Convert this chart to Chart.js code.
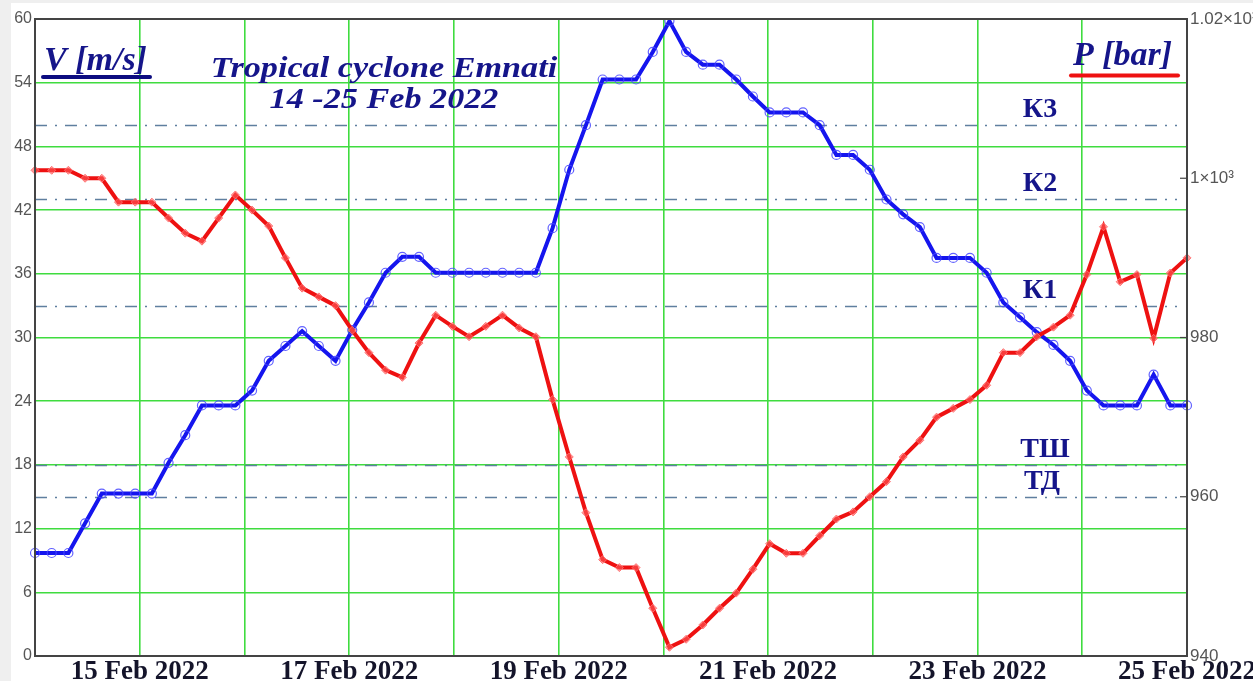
<!DOCTYPE html>
<html>
<head>
<meta charset="utf-8">
<script src="https://cdn.jsdelivr.net/npm/chart.js@4.4.1/dist/chart.umd.min.js"></script>
<style>
html,body{margin:0;padding:0;background:#fff;overflow:hidden;}
canvas{display:block;}
</style>
</head>
<body>
<canvas id="c" width="1253" height="681"></canvas>
<script>
// Wind speed V [m/s], one value per observation
const windSpeed = [9.7,9.7,9.7,12.5,15.3,15.3,15.3,15.3,18.2,20.8,
  23.6,23.6,23.6,25.0,27.8,29.2,30.6,29.2,27.8,30.7,
  33.3,36.1,37.6,37.6,36.1,36.1,36.1,36.1,36.1,36.1,
  36.1,40.3,45.8,50.0,54.3,54.3,54.3,56.9,59.8,56.9,
  55.7,55.7,54.3,52.7,51.2,51.2,51.2,50.0,47.2,47.2,
  45.8,43.0,41.6,40.4,37.5,37.5,37.5,36.1,33.3,31.9,
  30.5,29.3,27.8,25.0,23.6,23.6,23.6,26.5,23.6,23.6];
// Pressure P (plotted on the right axis)
const pressure = [1001.0,1001.0,1001.0,1000.0,1000.0,997.0,997.0,997.0,995.0,993.1,
  992.1,995.0,997.9,996.0,994.0,990.0,986.2,985.1,984.0,980.9,
  978.1,975.9,975.0,979.3,982.8,981.4,980.1,981.4,982.8,981.2,
  980.1,972.2,965.0,958.0,952.1,951.1,951.1,946.0,941.1,942.1,
  943.9,946.0,947.9,950.9,954.1,952.9,952.9,955.1,957.2,958.1,
  960.0,961.9,965.0,967.1,970.0,971.1,972.2,974.0,978.1,978.1,
  980.1,981.3,982.8,987.9,993.9,987.0,987.9,979.9,988.1,990.0];
// Observation categories
const observations = windSpeed.map((_, i) => String(i + 1));
// Day axis (February 2022)
const dayStart = 14, dayEnd = 25;
const dayLabelDays = [15, 17, 19, 21, 23, 25];
// Intensity thresholds on the V axis
const thresholdNames = ['К3', 'К2', 'К1', 'ТШ', 'ТД'];
const thresholdValues = [50, 43, 33, 18, 15];
// Tick label texts for the pressure axis
const pressureTickValues = [940, 960, 980, 1000, 1020];
const pressureTickTexts = ['940', '960', '980', '1×10³', '1.02×10³'];

const NAVY = '#15158a';
const GREEN = '#3fdc3f';

function stretchedText(ctx, text, cx, y, sx) {
  ctx.save();
  ctx.translate(cx, y);
  ctx.scale(sx, 1);
  ctx.fillText(text, 0, 0);
  ctx.restore();
}

const decor = {
  id: 'decor',
  beforeDraw(chart) {
    const ctx = chart.ctx;
    ctx.save();
    ctx.fillStyle = '#ffffff';
    ctx.fillRect(0, 0, chart.width, chart.height);
    ctx.fillStyle = '#efefef';
    ctx.fillRect(0, 0, chart.width, 3);
    ctx.fillRect(0, 0, 11, chart.height);
    ctx.restore();
  },
  beforeDatasetsDraw(chart) {
    const ctx = chart.ctx, a = chart.chartArea, y = chart.scales.y;
    ctx.save();
    ctx.strokeStyle = '#5f7f9f';
    ctx.lineWidth = 1.6;
    ctx.setLineDash([12, 8, 2, 8]);
    thresholdValues.forEach(v => {
      const py = Math.round(y.getPixelForValue(v)) + 0.5;
      ctx.beginPath();
      ctx.moveTo(a.left, py);
      ctx.lineTo(a.right - 10, py);
      ctx.stroke();
    });
    ctx.restore();
  },
  afterDraw(chart) {
    const ctx = chart.ctx, a = chart.chartArea, y = chart.scales.y, y1 = chart.scales.y1;
    ctx.save();
    // frame
    ctx.strokeStyle = '#444';
    ctx.lineWidth = 2;
    ctx.strokeRect(a.left, a.top, a.right - a.left, a.bottom - a.top);
    // inward ticks on the right axis
    ctx.lineWidth = 1.2;
    pressureTickValues.forEach(v => {
      const py = y1.getPixelForValue(v);
      ctx.beginPath();
      ctx.moveTo(a.right - 7, py);
      ctx.lineTo(a.right, py);
      ctx.stroke();
    });
    // threshold labels
    ctx.fillStyle = NAVY;
    ctx.font = 'bold 28px "Liberation Serif"';
    ctx.textAlign = 'center';
    ctx.textBaseline = 'alphabetic';
    const cxs = [1040, 1040, 1040, 1045, 1042];
    thresholdValues.forEach((v, i) => {
      const py = y.getPixelForValue(v);
      ctx.fillText(thresholdNames[i], cxs[i], py - 8);
    });
    // title
    ctx.font = 'italic bold 30px "Liberation Serif"';
    stretchedText(ctx, 'Tropical cyclone Emnati', 384, 77, 1.14);
    stretchedText(ctx, '14 -25 Feb 2022', 384, 108, 1.14);
    // axis names
    ctx.textAlign = 'left';
    ctx.font = 'italic bold 34px "Liberation Serif"';
    ctx.fillText('V [m/s]', 44, 70);
    ctx.fillText('P [bar]', 1073, 65);
    ctx.lineCap = 'round';
    ctx.lineWidth = 4;
    ctx.strokeStyle = '#0c0c80';
    ctx.beginPath(); ctx.moveTo(43, 77); ctx.lineTo(150, 77); ctx.stroke();
    ctx.strokeStyle = '#ee1111';
    ctx.beginPath(); ctx.moveTo(1071, 75.5); ctx.lineTo(1178, 75.5); ctx.stroke();
    ctx.restore();
  }
};

new Chart(document.getElementById('c'), {
  type: 'line',
  data: {
    labels: observations,
    datasets: [
      {
        label: 'P',
        data: pressure,
        yAxisID: 'y1',
        xAxisID: 'x',
        borderColor: '#ee1111',
        borderWidth: 4,
        pointStyle: 'rectRot',
        pointRadius: 4,
        pointBorderWidth: 1,
        pointBorderColor: 'rgba(255,110,110,0.9)',
        pointBackgroundColor: 'rgba(255,90,90,0.6)',
        tension: 0,
        order: 0
      },
      {
        label: 'V',
        data: windSpeed,
        yAxisID: 'y',
        xAxisID: 'x',
        borderColor: '#1515ee',
        borderWidth: 4,
        pointStyle: 'circle',
        pointRadius: 4.5,
        pointBorderWidth: 1.2,
        pointBorderColor: 'rgba(70,70,255,0.85)',
        pointBackgroundColor: 'rgba(255,255,255,0)',
        tension: 0,
        order: 1
      }
    ]
  },
  options: {
    responsive: false,
    animation: false,
    devicePixelRatio: 1,
    layout: { padding: { top: 19, left: 0, right: 0, bottom: 0 } },
    plugins: { legend: { display: false }, tooltip: { enabled: false } },
    scales: {
      x: { type: 'category', display: false, offset: false },
      xd: {
        type: 'linear', position: 'bottom', min: dayStart, max: dayEnd,
        afterFit(s) { s.height = 25; s.paddingLeft = 0; s.paddingRight = 0; },
        border: { display: false },
        grid: { color: GREEN, lineWidth: 1.6, drawTicks: false },
        ticks: {
          stepSize: 1, autoSkip: false, maxRotation: 0, padding: 0,
          color: '#14142a',
          font: { family: '"Liberation Serif"', size: 27, weight: 'bold' },
          callback: v => dayLabelDays.includes(v) ? v + ' Feb 2022' : ''
        }
      },
      y: {
        type: 'linear', position: 'left', min: 0, max: 60,
        afterFit(s) { s.width = 35; },
        border: { display: false },
        grid: { color: GREEN, lineWidth: 1.6, drawTicks: false },
        ticks: {
          stepSize: 6, padding: 3, color: '#555',
          font: { family: '"Liberation Sans"', size: 16 }
        }
      },
      y1: {
        type: 'linear', position: 'right', min: 940, max: 1020,
        afterFit(s) { s.width = 66; },
        border: { display: false },
        grid: { drawOnChartArea: false, drawTicks: false },
        ticks: {
          stepSize: 20, padding: 3, color: '#555',
          font: { family: '"Liberation Sans"', size: 17 },
          callback: v => { const k = pressureTickValues.indexOf(v); return k >= 0 ? pressureTickTexts[k] : ''; }
        }
      }
    }
  },
  plugins: [decor]
});
</script>
</body>
</html>
